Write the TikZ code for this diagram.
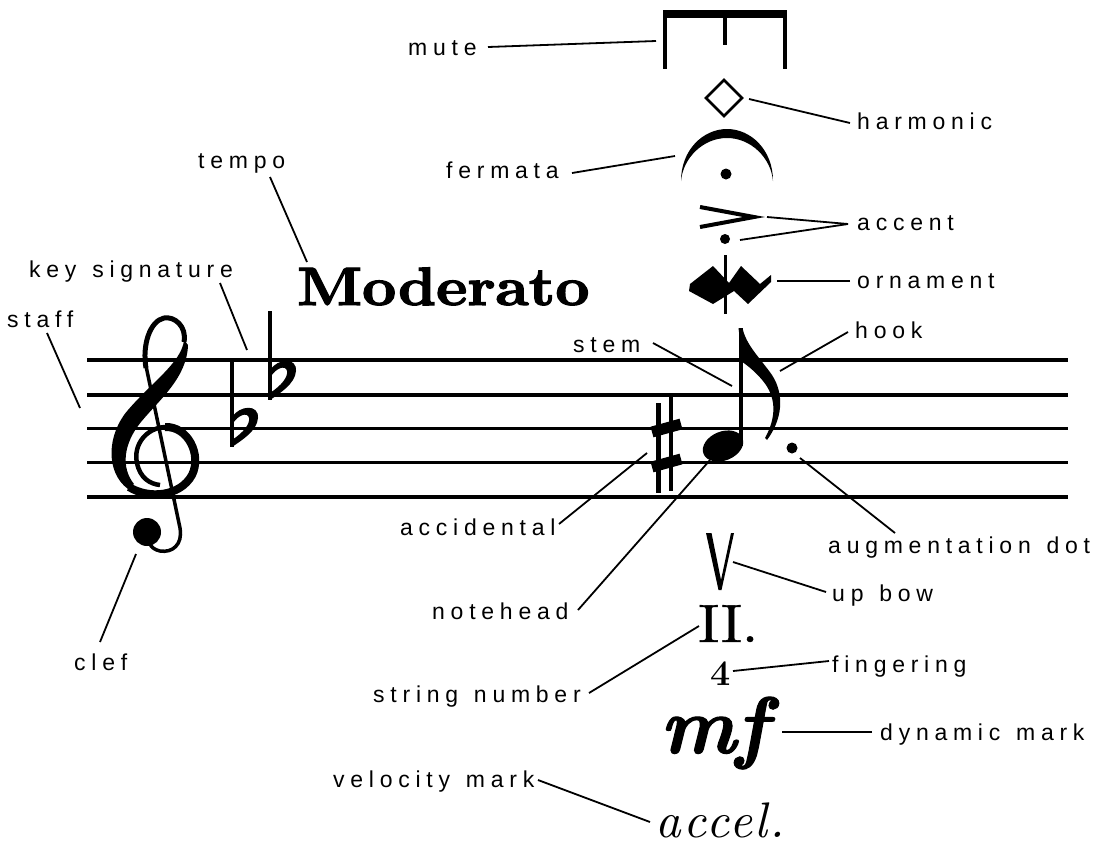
\documentclass[tikz,border=0pt]{standalone}
\usepackage{fontspec}
\newfontfamily\labfont{Liberation Sans}[LetterSpace=25, WordSpace=1.3]
\newfontfamily\modfont{lmroman10-bold}[Extension=.otf, FakeBold=2.2]
\newfontfamily\mffont{lmroman10-bolditalic}[Extension=.otf, FakeBold=1.5]
\newfontfamily\accfont{lmroman10-italic}[Extension=.otf, LetterSpace=5]
\newfontfamily\romfont{lmroman10-regular}[Extension=.otf, FakeBold=0.8]
\begin{document}
\begin{tikzpicture}[x=1pt,y=-1pt,
  lab/.style={font=\labfont\fontsize{23}{23}\selectfont, inner sep=0pt, anchor=base west},
  conn/.style={line width=1.8pt},
  staffline/.style={line width=3.5pt},
  flatsign/.pic={
    \draw[line width=3.5pt] (0,-89) -- (0,0);
    \fill (0,-30) .. controls (8,-42) and (27,-43) .. (26,-29) .. controls (25,-16) and (10,-7) .. (0,0) -- (0,-7) .. controls (12,-15) and (18,-23) .. (17,-29) .. controls (16,-35) and (6,-33) .. (0,-22) -- cycle;
  }]
\useasboundingbox (0,0) rectangle (1107,860);
\fill[white] (0,0) rectangle (1107,860);

% staff
\foreach \yy in {360,395,428.5,462.5,497}
  \draw[staffline] (87,\yy) -- (1068,\yy);

% clef
\fill (184,340) .. controls (182,362) and (152,382) .. (128,410) .. controls (107,434) and (105,472) .. (128,489) -- (134,484) .. controls (121,468) and (123,444) .. (141,422) .. controls (159,400) and (187,378) .. (188,345) -- cycle;
\draw[line width=8pt] (129,487) .. controls (148,499) and (180,497) .. (192,475) .. controls (202,455) and (188,426) .. (165,427);
\draw[line width=4.5pt] (165,427) .. controls (146,428) and (133,445) .. (137,463) .. controls (140,478) and (150,484) .. (160,485);
\draw[line width=5pt] (184,342) .. controls (187,326) and (174,316) .. (164,318) .. controls (150,321) and (142,345) .. (146,368);
\draw[line width=3.5pt] (146,366) -- (180,528) .. controls (183,545) and (172,553) .. (160,551) .. controls (155,550) and (151,547) .. (150,544);
\fill (147,532) circle (14);

% key signature
\pic at (232,447) {flatsign};
\pic at (270,400) {flatsign};

% tempo
\node[anchor=base west, inner sep=0pt, font=\modfont\fontsize{54}{54}\selectfont, xscale=1.1] (moderato) at (297,305) {Moderato};

% sharp
\draw[line width=4.5pt] (658.5,403) -- (658.5,493);
\draw[line width=4.5pt] (671,397) -- (671,491);
\draw[line width=11pt] (652,432) -- (681,424);
\draw[line width=11pt] (652,467) -- (681,459);

% note
\fill[rotate around={22:(723,446)}] (723,446) ellipse [x radius=21, y radius=14.5];
\draw[line width=4pt] (740.5,328) -- (740.5,446);
\fill (738.5,328) -- (742.5,328) .. controls (746,345) and (760,358) .. (772,375) .. controls (785,395) and (782,420) .. (767,440) -- (765,438) .. controls (776,418) and (776,400) .. (766,385) .. controls (757,372) and (745,364) .. (742.5,362) -- cycle;
\fill (792,448) circle (5.5);

% mute
\fill (663,10) rectangle (787,18);
\draw[line width=4pt] (665,14) -- (665,69);
\draw[line width=4pt] (785,14) -- (785,69);
\draw[line width=4pt] (725,14) -- (725,45);

% harmonic
\draw[line width=2.5pt] (724,80) -- (742,98) -- (724,116) -- (706,98) -- cycle;

% fermata
\fill (681,181) .. controls (681,150) and (703,129) .. (727,129) .. controls (751,129) and (773,150) .. (773,181) .. controls (771,158) and (751,138) .. (727,138) .. controls (703,138) and (683,158) .. (681,181) -- cycle;
\fill (726,174) circle (5.5);

% accent + staccato
\draw[line width=4pt, miter limit=10] (700,207) -- (754,217) -- (700,227);
\fill (725,239) circle (5);

% ornament
\fill (690,284) -- (713,266) -- (729,283) -- (741,266) -- (760,284) -- (771,275) -- (771,282) -- (748,304) -- (734,291) -- (713,304) -- (689,291) -- cycle;
\draw[line width=3.5pt] (725.5,255) -- (725.5,314);

% up bow
\fill (706,533) -- (711.5,533) -- (721,580) -- (731,533) -- (734,533) -- (721.5,590) -- (718.5,590) -- cycle;

% string number, fingering, dynamic, velocity
\node[anchor=base west, inner sep=0pt, font=\romfont\fontsize{54}{54}\selectfont, xscale=1.08] (strnum) at (698,642) {II.};
\node[anchor=base west, inner sep=0pt, text depth=0pt, font=\bfseries\fontsize{36}{36}\selectfont] (finger) at (710,685) {4};
\node[anchor=base west, inner sep=0pt, text height=48pt, font=\mffont\fontsize{80}{80}\selectfont] (dyn) at (660,753) {mf};
\node[anchor=base west, inner sep=0pt, font=\accfont\fontsize{50}{50}\selectfont] (vel) at (655,837) {accel.};

% labels
\node[lab] (Lmute) at (408,55) {mute};
\node[lab] (Lharm) at (857,129) {harmonic};
\node[lab] (Lferm) at (446,178) {fermata};
\node[lab] (Ltempo) at (198,168) {tempo};
\node[lab] (Laccent) at (857,230) {accent};
\node[lab] (Lkey) at (29,277) {key signature};
\node[lab] (Lorn) at (857,288) {ornament};
\node[lab] (Lstaff) at (7,327) {staff};
\node[lab] (Lhook) at (855,338) {hook};
\node[lab] (Lstem) at (573,352) {stem};
\node[lab] (Lacc) at (400,535) {accidental};
\node[lab] (Laug) at (828,553) {augmentation dot};
\node[lab] (Lbow) at (832,601) {up bow};
\node[lab] (Lnote) at (432,619) {notehead};
\node[lab] (Lclef) at (74,670) {clef};
\node[lab] (Lfing) at (832,672) {fingering};
\node[lab] (Lstr) at (373,702) {string number};
\node[lab] (Ldyn) at (880,740) {dynamic mark};
\node[lab] (Lvel) at (333,787) {velocity mark};

% connector end points
\coordinate (a1) at (488,47);  \coordinate (b1) at (656,41);
\coordinate (a2) at (850,123); \coordinate (b2) at (749,99);
\coordinate (a3) at (572,173); \coordinate (b3) at (675,156);
\coordinate (a4) at (270,177); \coordinate (b4) at (307,262);
\coordinate (a5) at (848,224); \coordinate (b5) at (767,217); \coordinate (c5) at (740,240);
\coordinate (a6) at (220,283); \coordinate (b6) at (247,350);
\coordinate (a7) at (850,281); \coordinate (b7) at (777,281);
\coordinate (a8) at (47,333);  \coordinate (b8) at (80,408);
\coordinate (a9) at (848,332); \coordinate (b9) at (780,371);
\coordinate (a10) at (653,343); \coordinate (b10) at (732,386);
\coordinate (a11) at (559,524); \coordinate (b11) at (647,453);
\coordinate (a12) at (895,533); \coordinate (b12) at (800,458);
\coordinate (a13) at (826,592); \coordinate (b13) at (733,562);
\coordinate (a14) at (578,610); \coordinate (b14) at (710,460);
\coordinate (a15) at (100,642); \coordinate (b15) at (136,554);
\coordinate (a16) at (829,661); \coordinate (b16) at (733,671);
\coordinate (a17) at (589,693); \coordinate (b17) at (699,626);
\coordinate (a18) at (872,732); \coordinate (b18) at (782,732);
\coordinate (a19) at (538,780); \coordinate (b19) at (650,822);

\draw[conn] (a1) -- (b1);
\draw[conn] (a2) -- (b2);
\draw[conn] (a3) -- (b3);
\draw[conn] (a4) -- (b4);
\draw[conn] (a5) -- (b5);
\draw[conn] (a5) -- (c5);
\draw[conn] (a6) -- (b6);
\draw[conn] (a7) -- (b7);
\draw[conn] (a8) -- (b8);
\draw[conn] (a9) -- (b9);
\draw[conn] (a10) -- (b10);
\draw[conn] (a11) -- (b11);
\draw[conn] (a12) -- (b12);
\draw[conn] (a13) -- (b13);
\draw[conn] (a14) -- (b14);
\draw[conn] (a15) -- (b15);
\draw[conn] (a16) -- (b16);
\draw[conn] (a17) -- (b17);
\draw[conn] (a18) -- (b18);
\draw[conn] (a19) -- (b19);
\end{tikzpicture}
\end{document}
